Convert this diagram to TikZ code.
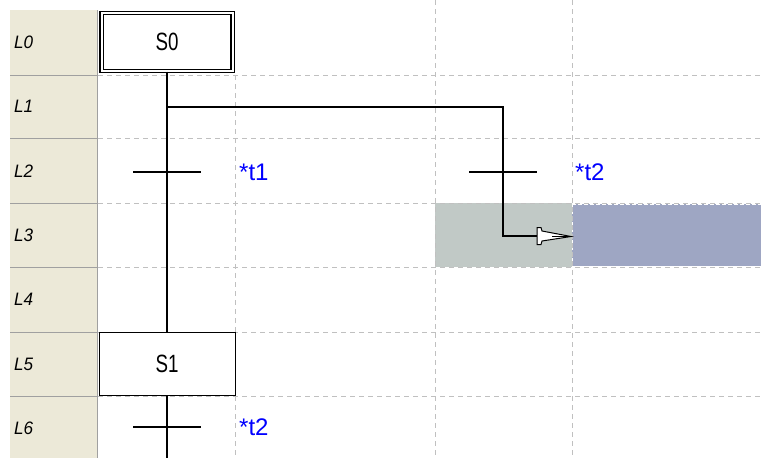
\documentclass[tikz,border=0pt]{standalone}
\usepackage{fontspec}
\setmainfont{Liberation Sans}
\newfontfamily\stepfont[FakeStretch=0.75]{Liberation Sans}
\newfontfamily\rowfont[FakeStretch=0.95]{Liberation Sans}
\definecolor{beige}{HTML}{ECE9D8}
\definecolor{gridc}{HTML}{C0C0C0}
\definecolor{sepc}{HTML}{A0A0A0}
\definecolor{selgrey}{HTML}{C1C9C6}
\definecolor{selblue}{HTML}{9EA6C3}
\definecolor{lblblue}{HTML}{0000FF}
\begin{document}
\begin{tikzpicture}[x=1pt,y=-1pt,
  gridline/.style={gridc,line width=1pt,dash pattern=on 5pt off 4pt},
  sepline/.style={sepc,line width=1pt},
  stepbox/.style={draw=black,line width=1pt,fill=white,minimum width=136pt,minimum height=63pt,inner sep=0pt,font=\stepfont\fontsize{25}{25}\selectfont},
  initbox/.style={stepbox,double=white,double distance=2pt,line width=1.2pt,minimum width=131pt,minimum height=58pt},
  wire/.style={black,line width=1.2pt},
  trbar/.style={black,line width=1.2pt},
  tlabel/.style={text=lblblue,anchor=west,inner sep=0pt,font=\fontsize{24}{24}\selectfont},
  rowlabel/.style={anchor=west,inner sep=0pt,font=\rowfont\itshape\fontsize{18}{18}\selectfont}
]
\useasboundingbox (0,0) rectangle (761,458);
\fill[white] (0,0) rectangle (761,458);
% left column
\fill[beige] (10,10) rectangle (97,458);
% selection highlights
\fill[selgrey] (435,203) rectangle (572,267);
\fill[selblue] (572,204) rectangle (761,266);
\draw[white,line width=1pt,dash pattern=on 4pt off 2pt] (572,204) rectangle (761,266);
% grid
\foreach \y in {75,138,203,267,332,396}{
  \draw[sepline] (10,\y) -- (98,\y);
  \draw[gridline] (98,\y) -- (761,\y);
}
\foreach \x in {435,572}{
  \draw[gridline] (\x,0) -- (\x,458);
}
\draw[gridline] (235,75) -- (235,332);
\draw[gridline] (235,396) -- (235,458);
\draw[sepc,line width=1.5pt] (97.5,10) -- (97.5,458);
% row labels
\foreach \i/\y in {0/42,1/106,2/171,3/235,4/299,5/364,6/428}{
  \node[rowlabel] (row\i) at (14,\y) {L\i};
}
% steps
\node[initbox] (S0) at (167,42) {S0};
\node[stepbox] (S1) at (167,364) {S1};
% transitions
\coordinate (T1) at (167,172);
\coordinate (T2) at (503,172);
\coordinate (T3) at (167,427);
\coordinate (br) at (167,107);
\coordinate (brR) at (503,107);
\coordinate (corner) at (503,236);
\coordinate (ahead) at (537,236);
\coordinate (tip) at (571,236);
\coordinate (bottom) at (167,458);
\draw[wire] (S0.south) -- (S1.north);
\draw[wire] (br) -- (brR) -- (corner) -- (ahead);
\draw[wire] (S1.south) -- (bottom);
\draw[trbar] ([xshift=-34pt]T1) -- ([xshift=34pt]T1);
\draw[trbar] ([xshift=-34pt]T2) -- ([xshift=34pt]T2);
\draw[trbar] ([xshift=-34pt]T3) -- ([xshift=34pt]T3);
% open arrow head
\draw[black,line width=1pt,fill=white,line join=miter]
  (537,227.5) -- (537,244.5) -- (541,244.5) -- (542,241) -- (571,236.5) -- (542,231) -- (541,227.5) -- cycle;
\draw[black,line width=0.8pt] (552,236) -- (tip);
% labels
\node[tlabel] (L1) at (239,172) {*t1};
\node[tlabel] (L2) at (575,172) {*t2};
\node[tlabel] (L3) at (239,427) {*t2};
\end{tikzpicture}
\end{document}
